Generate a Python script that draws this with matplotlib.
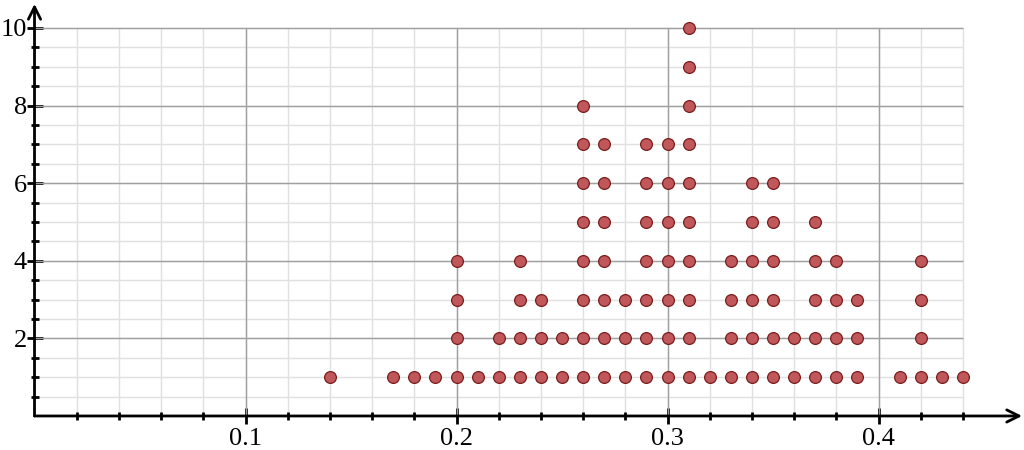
import numpy as np
import matplotlib.pyplot as plt

# value on the x axis and how many dots stack above it
x_values = [0.14, 0.17, 0.18, 0.19, 0.20, 0.21, 0.22, 0.23, 0.24, 0.25,
            0.26, 0.27, 0.28, 0.29, 0.30, 0.31, 0.32, 0.33, 0.34, 0.35,
            0.36, 0.37, 0.38, 0.39, 0.41, 0.42, 0.43, 0.44]
counts = [1, 1, 1, 1, 4, 1, 2, 4, 3, 2,
          8, 7, 3, 7, 7, 10, 1, 4, 6, 6,
          2, 5, 4, 3, 1, 4, 1, 1]
x_ticks = [0.1, 0.2, 0.3, 0.4]
y_ticks = [2, 4, 6, 8, 10]

plt.rcParams['font.family'] = ['Liberation Serif', 'DejaVu Serif']

fig = plt.figure(figsize=(10.24, 4.5), dpi=100)
ax = fig.add_axes([0.0337, 0.0756, 0.9644, 0.914])
ax.set_xlim(0, 0.468)
ax.set_ylim(0, 10.6)

# grid limited to the plotting area
grid_right = 0.44
grid_top = 10
for xv in np.arange(0.02, grid_right + 0.001, 0.02):
    ax.vlines(xv, 0, grid_top, color='#e0e0e0', lw=1, zorder=1)
for yv in np.arange(0.5, grid_top + 0.01, 0.5):
    ax.hlines(yv, 0, grid_right, color='#e0e0e0', lw=1, zorder=1)
for xv in x_ticks:
    ax.vlines(xv, 0, grid_top, color='#a0a0a0', lw=1, zorder=2)
for yv in y_ticks:
    ax.hlines(yv, 0, grid_right, color='#a0a0a0', lw=1, zorder=2)

px, py = [], []
for xv, c in zip(x_values, counts):
    for k in range(1, c + 1):
        px.append(xv)
        py.append(k)
ax.scatter(px, py, s=72, color='#c0575a', edgecolors='#7a1c1c',
           linewidths=0.9, zorder=5, clip_on=False)

for s in ax.spines.values():
    s.set_visible(False)

ax.annotate('', xy=(0.468, 0), xytext=(0, 0),
            arrowprops=dict(arrowstyle='->', lw=2, color='black',
                            mutation_scale=22, shrinkA=0, shrinkB=0),
            annotation_clip=False)
ax.annotate('', xy=(0, 10.62), xytext=(0, 0),
            arrowprops=dict(arrowstyle='->', lw=2, color='black',
                            mutation_scale=22, shrinkA=0, shrinkB=0),
            annotation_clip=False)

ax.set_xticks(x_ticks)
ax.set_xticklabels([f'{v:g}' for v in x_ticks])
ax.set_yticks(y_ticks)
ax.set_yticklabels([str(v) for v in y_ticks])
ax.xaxis.set_minor_locator(plt.FixedLocator(np.arange(0.02, 0.441, 0.02)))
ax.yaxis.set_minor_locator(plt.FixedLocator(np.arange(0.5, 10.01, 0.5)))
ax.tick_params(which='major', direction='inout', length=11, width=2,
               labelsize=19, colors='black')
ax.tick_params(which='minor', direction='inout', length=6, width=2)
ax.tick_params(axis='x', which='major', pad=3)
ax.tick_params(axis='y', which='major', pad=0)

fig.savefig('out.png', dpi=100)
